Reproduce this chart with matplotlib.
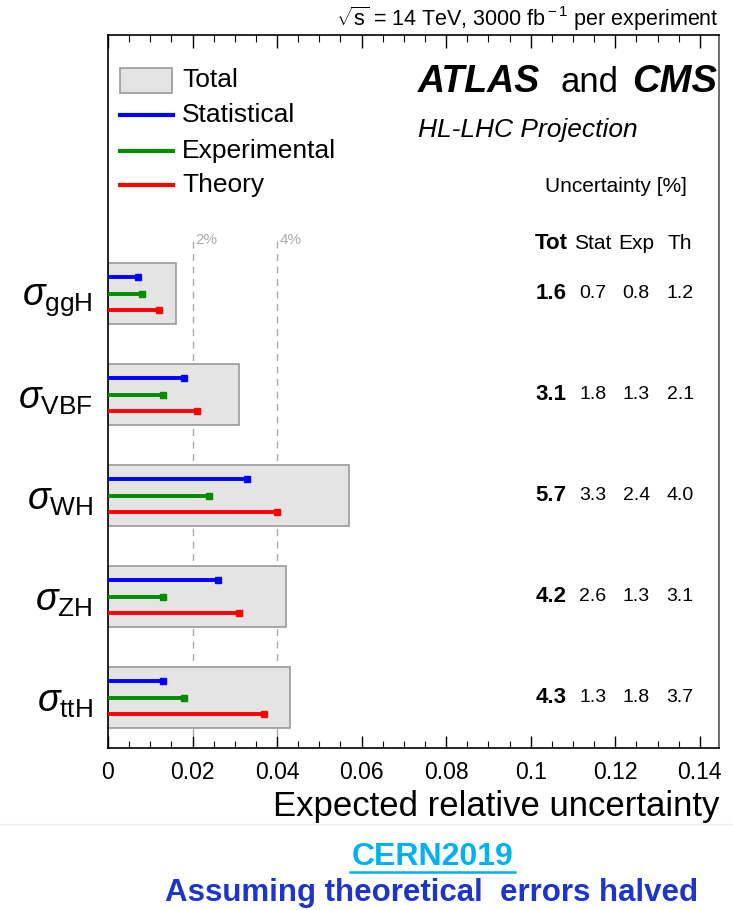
import matplotlib.pyplot as plt
from matplotlib.patches import Rectangle
from matplotlib.lines import Line2D
from matplotlib.ticker import MultipleLocator

plt.rcParams['font.family'] = ['Liberation Sans', 'DejaVu Sans']
plt.rcParams['mathtext.fontset'] = 'custom'
plt.rcParams['mathtext.rm'] = 'Liberation Sans'
plt.rcParams['mathtext.it'] = 'Liberation Sans:italic'

# data (relative uncertainty in %)
processes = ['ggH', 'VBF', 'WH', 'ZH', 'ttH']
total = [1.6, 3.1, 5.7, 4.2, 4.3]
stat = [0.7, 1.8, 3.3, 2.6, 1.3]
expt = [0.8, 1.3, 2.4, 1.3, 1.8]
theory = [1.2, 2.1, 4.0, 3.1, 3.7]

blue, green, red = '#0000ff', '#008c00', '#ff0000'

fig = plt.figure(figsize=(7.33, 9.10), dpi=100)
ax = fig.add_axes([0.1473, 0.178, 0.834, 0.7835])

ypos = [4, 3, 2, 1, 0]
ax.set_xlim(0, 0.1446)
ax.set_ylim(-0.5, 6.56)

for i, y in enumerate(ypos):
    ax.barh(y, total[i] / 100, height=0.6, color='#e4e4e4', edgecolor='#999999',
            linewidth=1.2, zorder=1)
    for val, off, col in [(stat[i], 0.16, blue), (expt[i], 0, green), (theory[i], -0.16, red)]:
        ax.hlines(y + off, 0, val / 100, color=col, lw=2.8, zorder=3)
        ax.plot(val / 100, y + off, marker='s', ms=4.5, color=col, zorder=4, clip_on=False)

# reference lines
for xv, lab in [(0.02, '2%'), (0.04, '4%')]:
    ax.vlines(xv, -0.5, 4.56, colors='#aaaaaa', linestyles=(0, (5, 4)), lw=1, zorder=0.5)
    ax.text(xv + 0.0007, 4.6, lab, color='#aaaaaa', fontsize=11, va='top', ha='left')

ax.set_yticks(ypos)
ax.set_yticklabels([r'$\sigma_{\mathrm{%s}}$' % p for p in processes], fontsize=27)
ax.tick_params(axis='y', length=0, pad=11)

ax.xaxis.set_minor_locator(MultipleLocator(0.005))
ax.set_xticks([0, 0.02, 0.04, 0.06, 0.08, 0.1, 0.12, 0.14])
ax.set_xticklabels(['0', '0.02', '0.04', '0.06', '0.08', '0.1', '0.12', '0.14'])
ax.tick_params(axis='x', which='major', direction='in', length=9, top=True,
               labelsize=16.5, pad=9, width=1)
ax.tick_params(axis='x', which='minor', direction='in', length=5, top=True, width=0.8)
for s in ax.spines.values():
    s.set_linewidth(1.2)
ax.spines['right'].set_color('#555555')

ax.set_xlabel('Expected relative uncertainty', fontsize=25, loc='right', labelpad=5)

# legend drawn by hand in axes coordinates
ax.add_patch(Rectangle((0.0196, 0.919), 0.085, 0.035, transform=ax.transAxes,
                       facecolor='#e4e4e4', edgecolor='#999999', lw=1.2, zorder=5))
ax.text(0.121, 0.937, 'Total', transform=ax.transAxes, fontsize=19, va='center')
for yy, col, lab in [(0.888, blue, 'Statistical'), (0.837, green, 'Experimental'),
                     (0.790, red, 'Theory')]:
    ax.add_line(Line2D([0.0196, 0.106], [yy, yy], transform=ax.transAxes, color=col, lw=3))
    ax.text(0.121, yy, lab, transform=ax.transAxes, fontsize=19, va='center')

# experiment labels
ax.text(0.507, 0.934, 'ATLAS', transform=ax.transAxes, ha='left', va='center',
        fontsize=27, fontweight='bold', style='italic')
ax.text(0.740, 0.934, 'and', transform=ax.transAxes, ha='left', va='center', fontsize=25)
ax.text(0.858, 0.934, 'CMS', transform=ax.transAxes, ha='left', va='center',
        fontsize=27.5, fontweight='bold', style='italic')
ax.text(0.507, 0.867, 'HL-LHC Projection', style='italic', transform=ax.transAxes,
        ha='left', va='center', fontsize=19)
ax.text(0.715, 5.06, 'Uncertainty [%]', ha='left', va='center', fontsize=15,
        transform=ax.get_yaxis_transform())

cols = [0.725, 0.793, 0.864, 0.936]
for cx, h in zip(cols, ['Tot', 'Stat', 'Exp', 'Th']):
    ax.text(cx, 4.5, h, ha='center', va='center', fontsize=16 if h == 'Tot' else 15,
            fontweight='bold' if h == 'Tot' else 'normal',
            transform=ax.get_yaxis_transform())
for i, y in enumerate(ypos):
    for j, (cx, v) in enumerate(zip(cols, [total[i], stat[i], expt[i], theory[i]])):
        ax.text(cx, y, '%.1f' % v, ha='center', va='center',
                fontsize=16 if j == 0 else 14, fontweight='bold' if j == 0 else 'normal',
                transform=ax.get_yaxis_transform())

fig.text(0.981, 0.979, r'$\sqrt{\rm s}$ = 14 TeV, 3000 fb$^{\rm -1}$ per experiment',
         ha='right', va='center', fontsize=15.5)

# footer
fig.add_artist(Line2D([0, 1], [0.095, 0.095], color='#f0f0f0', lw=1))
fig.text(0.59, 0.058, 'CERN2019', ha='center', va='center', fontsize=23,
         fontweight='bold', color='#00b0f0')
fig.add_artist(Line2D([0.477, 0.703], [0.042, 0.042], color='#00b0f0', lw=1.8))
fig.text(0.589, 0.019, 'Assuming theoretical  errors halved', ha='center', va='center',
         fontsize=22.5, fontweight='bold', color='#1f35c8')

fig.savefig('out.png', dpi=100)
